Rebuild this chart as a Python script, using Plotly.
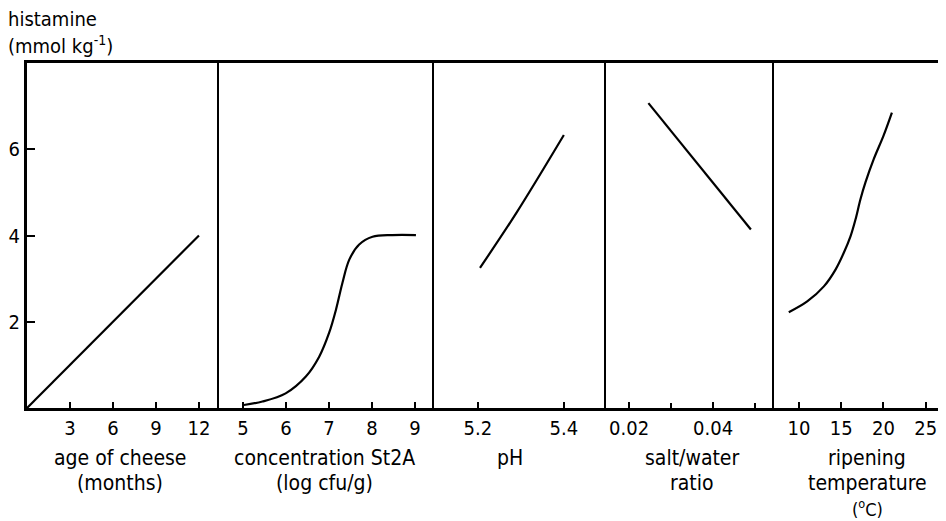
import plotly.graph_objects as go
from plotly.subplots import make_subplots

# ---------------- data ----------------
y_tickvals = [2, 4, 6]

age_x = [0, 12]
age_y = [0, 4]

conc_x = [5.02, 5.45, 5.99, 6.46, 6.77, 7.0, 7.16, 7.31, 7.47, 7.7, 8.01, 8.47, 9.02]
conc_y = [0.07, 0.15, 0.34, 0.73, 1.19, 1.74, 2.28, 2.90, 3.44, 3.79, 3.97, 4.01, 4.01]

ph_x = [5.205, 5.29, 5.4]
ph_y = [3.25, 4.53, 6.33]

salt_x = [0.0246, 0.049]
salt_y = [7.07, 4.14]

temp_x = [8.8, 10.98, 12.95, 14.33, 15.31, 16.1, 16.69, 17.28, 17.87, 18.85, 20.0, 21.0]
temp_y = [2.22, 2.47, 2.82, 3.21, 3.60, 3.98, 4.37, 4.84, 5.23, 5.77, 6.31, 6.85]

panel_ticks = [
    ([3, 6, 9, 12], ["3", "6", "9", "12"]),
    ([5, 6, 7, 8, 9], ["5", "6", "7", "8", "9"]),
    ([5.2, 5.4], ["5.2", "5.4"]),
    ([0.02, 0.04], ["0.02", "0.04"]),
    ([10, 15, 20, 25], ["10", "15", "20", "25"]),
]
salt_minor = [0.03, 0.05]

panel_titles = [
    ["age of cheese", "(months)"],
    ["concentration St2A", "(log cfu/g)"],
    ["pH"],
    ["salt/water", "ratio"],
    ["ripening", "temperature", "(<sup>o</sup>C)"],
]
y_title = ["histamine", "(mmol kg<sup>-1</sup>)"]

# ---------------- figure ----------------
W, H = 946, 521
OFF = 8  # page body margin in the browser
PL, PT, PR, PB = 27, 63, 946, 408   # plot area in window pixels
L = PL - OFF
T = PT - OFF
R = W + OFF - PR
B = H + OFF - PB
plot_w = PR - PL
plot_h = PB - PT

bounds = [27, 219, 434, 606, 774, 946]
widths = [bounds[i + 1] - bounds[i] for i in range(5)]

fig = make_subplots(rows=1, cols=5, shared_yaxes=True, horizontal_spacing=0,
                    column_widths=widths)

series = [(age_x, age_y, "linear"), (conc_x, conc_y, "spline"),
          (ph_x, ph_y, "spline"), (salt_x, salt_y, "linear"),
          (temp_x, temp_y, "spline")]
for i, (xs, ys, shp) in enumerate(series):
    fig.add_trace(go.Scatter(x=xs, y=ys, mode="lines",
                             line=dict(color="black", width=2.2, shape=shp),
                             showlegend=False, hoverinfo="skip"),
                  row=1, col=i + 1)

xranges = [[0, 13.4], [4.44, 9.44], [5.098, 5.498], [0.0145, 0.0545], [7.05, 27.4]]

FONT = "DejaVu Sans Condensed, Liberation Sans Narrow, sans-serif"

for i in range(5):
    tv, tt = panel_ticks[i]
    xa = dict(range=xranges[i], showgrid=False, zeroline=False,
              showline=True, linecolor="black", linewidth=3, mirror=True,
              ticks="inside", ticklen=6, tickwidth=2, tickcolor="black",
              tickvals=tv, ticktext=tt, automargin=False,
              tickfont=dict(family=FONT, size=20, color="black"))
    if i == 3:
        xa["minor"] = dict(tickvals=salt_minor, ticks="inside", ticklen=5,
                           tickwidth=2, tickcolor="black")
    fig.update_xaxes(**xa, row=1, col=i + 1)
    ya = dict(range=[0, 8], showgrid=False, zeroline=False,
              showline=True, linecolor="black", automargin=False,
              linewidth=3 if i == 0 else 2)
    if i == 0:
        ya.update(ticks="inside", ticklen=8, tickwidth=2, tickcolor="black",
                  tickvals=y_tickvals,
                  tickfont=dict(family=FONT, size=20, color="black"))
    else:
        ya.update(ticks="", showticklabels=False)
    fig.update_yaxes(**ya, row=1, col=i + 1)

annotations = []
centers = [120, 324, 510, 692, 867]
line_y = [458, 483, 508]
line_size = [21, 21, 18]
for i, lines in enumerate(panel_titles):
    for j, txt in enumerate(lines):
        annotations.append(dict(
            text=txt, xref="paper", yref="paper",
            x=(centers[i] - PL) / plot_w, y=(PB - line_y[j]) / plot_h,
            xanchor="center", yanchor="middle", showarrow=False,
            font=dict(family=FONT, size=line_size[j], color="black")))

for txt, ypx in zip(y_title, [19, 45]):
    annotations.append(dict(
        text=txt, xref="paper", yref="paper",
        x=(6 - PL) / plot_w, y=(PB - ypx) / plot_h,
        xanchor="left", yanchor="middle", showarrow=False,
        font=dict(family=FONT, size=20, color="black")))

fig.update_layout(width=W, height=H,
                  margin=dict(l=L, r=R, t=T, b=B),
                  paper_bgcolor="white", plot_bgcolor="white",
                  annotations=annotations, showlegend=False)

fig.write_html("out.html")
